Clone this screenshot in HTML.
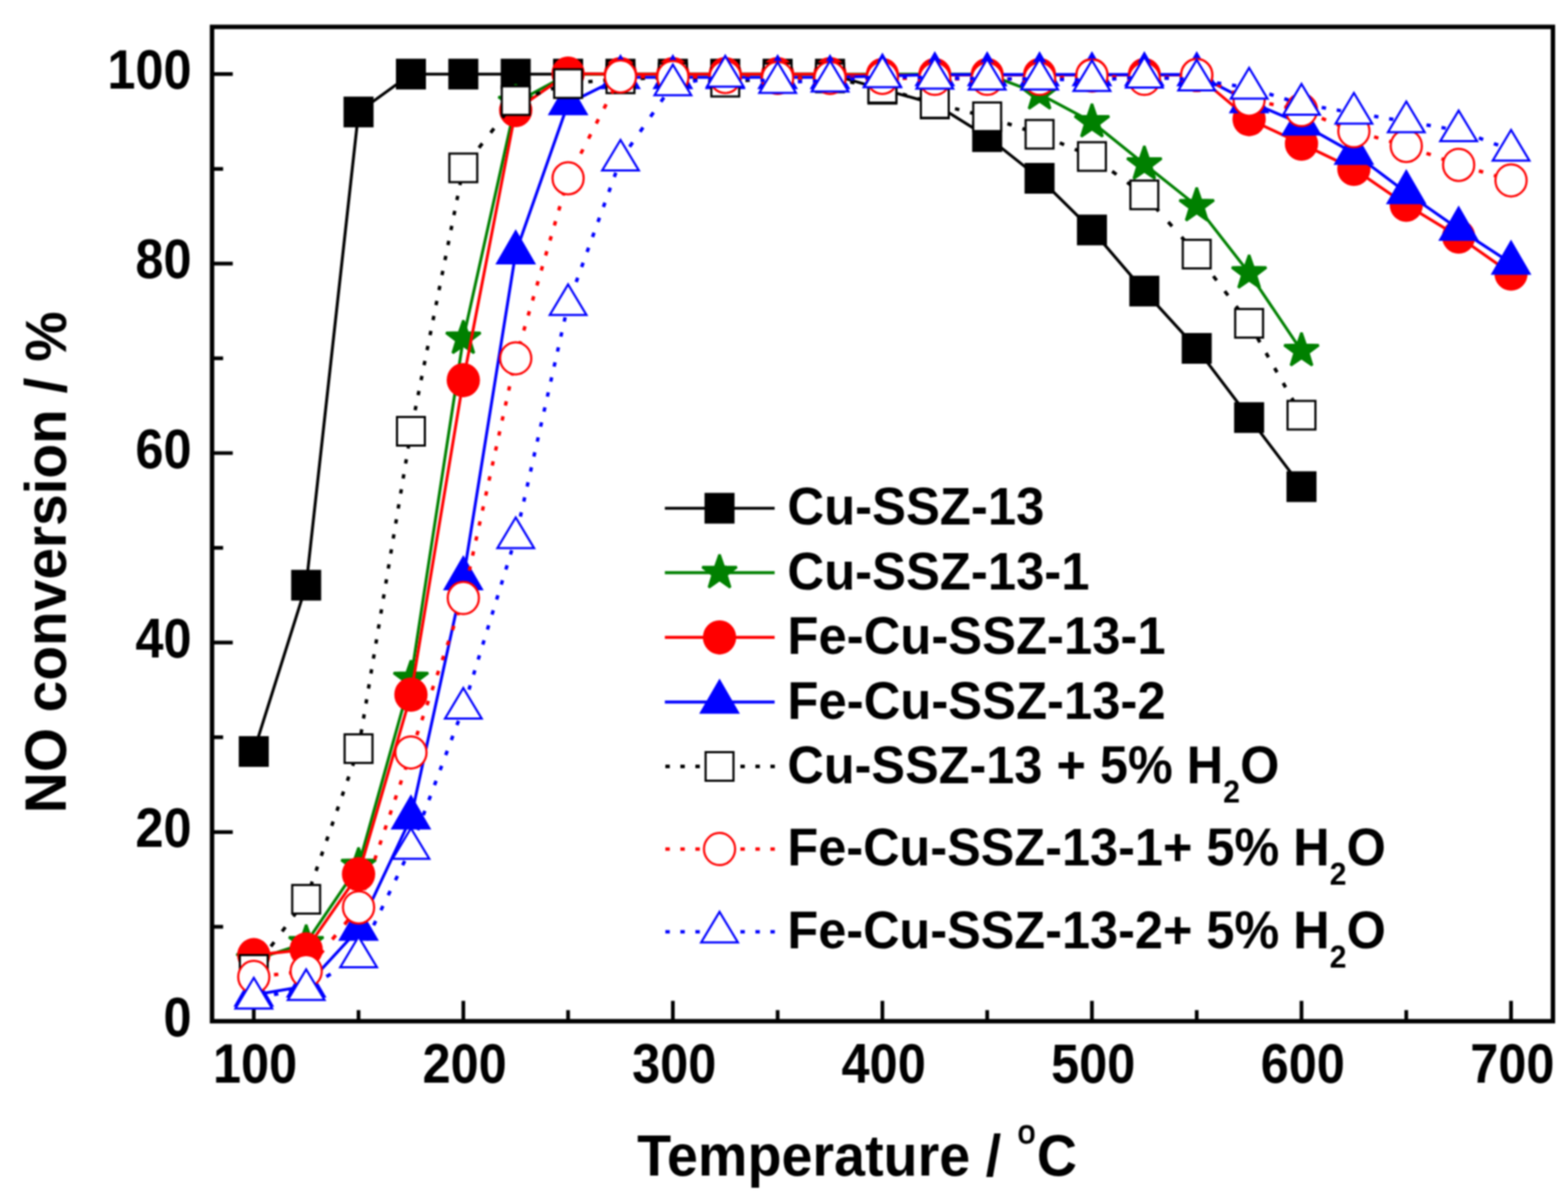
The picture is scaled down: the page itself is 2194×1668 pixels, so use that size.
<!DOCTYPE html>
<html lang="en">
<head>
<meta charset="utf-8">
<title>NO conversion vs temperature</title>
<style>
html,body{margin:0;padding:0;background:#fff;}
body{width:2194px;height:1668px;overflow:hidden;}
svg{display:block;}
</style>
</head>
<body>
<svg width="2194" height="1668" viewBox="0 0 2194 1668" font-family="'Liberation Sans', Arial, Helvetica, sans-serif" font-weight="bold">
<defs><filter id="soft" x="0" y="0" width="2194" height="1668" filterUnits="userSpaceOnUse" color-interpolation-filters="sRGB"><feGaussianBlur stdDeviation="1.3"/></filter></defs>
<rect x="0" y="0" width="2194" height="1668" fill="#ffffff"/>
<g filter="url(#soft)">
<rect x="0" y="0" width="2194" height="1668" fill="#ffffff"/>
<g id="plot">
<path d="M296.7,1429.4h29 M296.7,1296.8h15.5 M296.7,1164.3h29 M296.7,1031.7h15.5 M296.7,899.1h29 M296.7,766.6h15.5 M296.7,634h29 M296.7,501.4h15.5 M296.7,368.8h29 M296.7,236.3h15.5 M296.7,103.7h29 M355.1,1429v-28.5 M501.7,1429v-15.5 M648.3,1429v-28.5 M794.9,1429v-15.5 M941.5,1429v-28.5 M1088.1,1429v-15.5 M1234.7,1429v-28.5 M1381.3,1429v-15.5 M1527.9,1429v-28.5 M1674.5,1429v-15.5 M1821.1,1429v-28.5 M1967.7,1429v-15.5 M2114.3,1429v-28.5" stroke="#000" stroke-width="5.2" fill="none"/>
<g><polyline points="355.1,1051.6 428.4,818.9 501.7,156.7 575,103.7 648.3,103.7 721.6,103.7 794.9,103.7 868.2,103.7 941.5,103.7 1014.8,103.7 1088.1,103.7 1161.4,103.7 1234.7,124.9 1308,145.5 1381.3,191.2 1454.6,249.5 1527.9,321.8 1601.2,407.3 1674.5,487.5 1747.8,584.3 1821.1,681" fill="none" stroke="#000000" stroke-width="4.1" stroke-linejoin="round"/>
<rect x="334.1" y="1030.1" width="42" height="43" fill="#000000"/>
<rect x="407.4" y="797.4" width="42" height="43" fill="#000000"/>
<rect x="480.7" y="135.2" width="42" height="43" fill="#000000"/>
<rect x="554" y="82.2" width="42" height="43" fill="#000000"/>
<rect x="627.3" y="82.2" width="42" height="43" fill="#000000"/>
<rect x="700.6" y="82.2" width="42" height="43" fill="#000000"/>
<rect x="773.9" y="82.2" width="42" height="43" fill="#000000"/>
<rect x="847.2" y="82.2" width="42" height="43" fill="#000000"/>
<rect x="920.5" y="82.2" width="42" height="43" fill="#000000"/>
<rect x="993.8" y="82.2" width="42" height="43" fill="#000000"/>
<rect x="1067.1" y="82.2" width="42" height="43" fill="#000000"/>
<rect x="1140.4" y="82.2" width="42" height="43" fill="#000000"/>
<rect x="1213.7" y="103.4" width="42" height="43" fill="#000000"/>
<rect x="1287" y="124" width="42" height="43" fill="#000000"/>
<rect x="1360.3" y="169.7" width="42" height="43" fill="#000000"/>
<rect x="1433.6" y="228" width="42" height="43" fill="#000000"/>
<rect x="1506.9" y="300.3" width="42" height="43" fill="#000000"/>
<rect x="1580.2" y="385.8" width="42" height="43" fill="#000000"/>
<rect x="1653.5" y="466" width="42" height="43" fill="#000000"/>
<rect x="1726.8" y="562.8" width="42" height="43" fill="#000000"/>
<rect x="1800.1" y="659.5" width="42" height="43" fill="#000000"/></g>
<g><polyline points="355.1,1343.2 428.4,1319.4 501.7,1211.3 575,949.5 648.3,473.6 721.6,143.5 794.9,103.7 868.2,103.7 941.5,103.7 1014.8,103.7 1088.1,103.7 1161.4,103.7 1234.7,103.7 1308,103.7 1381.3,103.7 1454.6,131.5 1527.9,170.6 1601.2,229.6 1674.5,288 1747.8,382.1 1821.1,490.8" fill="none" stroke="#008000" stroke-width="4.1" stroke-linejoin="round"/>
<polygon points="355.1,1317.9 361,1335 379.2,1335.4 364.7,1346.4 370,1363.7 355.1,1353.3 340.2,1363.7 345.5,1346.4 331,1335.4 349.2,1335" fill="#008000" stroke="#008000" stroke-width="3.6" stroke-linejoin="bevel"/>
<polygon points="428.4,1294.1 434.3,1311.2 452.5,1311.5 438,1322.5 443.3,1339.8 428.4,1329.5 413.5,1339.8 418.8,1322.5 404.3,1311.5 422.5,1311.2" fill="#008000" stroke="#008000" stroke-width="3.6" stroke-linejoin="bevel"/>
<polygon points="501.7,1186 507.6,1203.1 525.8,1203.5 511.3,1214.4 516.6,1231.8 501.7,1221.4 486.8,1231.8 492.1,1214.4 477.6,1203.5 495.8,1203.1" fill="#008000" stroke="#008000" stroke-width="3.6" stroke-linejoin="bevel"/>
<polygon points="575,924.2 580.9,941.3 599.1,941.7 584.6,952.6 589.9,970 575,959.6 560.1,970 565.4,952.6 550.9,941.7 569.1,941.3" fill="#008000" stroke="#008000" stroke-width="3.6" stroke-linejoin="bevel"/>
<polygon points="648.3,448.3 654.2,465.4 672.4,465.8 657.9,476.7 663.2,494 648.3,483.7 633.4,494 638.7,476.7 624.2,465.8 642.4,465.4" fill="#008000" stroke="#008000" stroke-width="3.6" stroke-linejoin="bevel"/>
<polygon points="721.6,118.2 727.5,135.3 745.7,135.7 731.2,146.6 736.5,163.9 721.6,153.6 706.7,163.9 712,146.6 697.5,135.7 715.7,135.3" fill="#008000" stroke="#008000" stroke-width="3.6" stroke-linejoin="bevel"/>
<polygon points="1454.6,106.2 1460.5,123.4 1478.7,123.7 1464.2,134.7 1469.5,152 1454.6,141.7 1439.7,152 1445,134.7 1430.5,123.7 1448.7,123.4" fill="#008000" stroke="#008000" stroke-width="3.6" stroke-linejoin="bevel"/>
<polygon points="1527.9,145.3 1533.8,162.5 1552,162.8 1537.5,173.8 1542.8,191.1 1527.9,180.8 1513,191.1 1518.3,173.8 1503.8,162.8 1522,162.5" fill="#008000" stroke="#008000" stroke-width="3.6" stroke-linejoin="bevel"/>
<polygon points="1601.2,204.3 1607.1,221.5 1625.3,221.8 1610.8,232.8 1616.1,250.1 1601.2,239.8 1586.3,250.1 1591.6,232.8 1577.1,221.8 1595.3,221.5" fill="#008000" stroke="#008000" stroke-width="3.6" stroke-linejoin="bevel"/>
<polygon points="1674.5,262.7 1680.4,279.8 1698.6,280.2 1684.1,291.1 1689.4,308.4 1674.5,298.1 1659.6,308.4 1664.9,291.1 1650.4,280.2 1668.6,279.8" fill="#008000" stroke="#008000" stroke-width="3.6" stroke-linejoin="bevel"/>
<polygon points="1747.8,356.8 1753.7,373.9 1771.9,374.3 1757.4,385.2 1762.7,402.6 1747.8,392.2 1732.9,402.6 1738.2,385.2 1723.7,374.3 1741.9,373.9" fill="#008000" stroke="#008000" stroke-width="3.6" stroke-linejoin="bevel"/>
<polygon points="1821.1,465.5 1827,482.6 1845.2,483 1830.7,493.9 1836,511.3 1821.1,500.9 1806.2,511.3 1811.5,493.9 1797,483 1815.2,482.6" fill="#008000" stroke="#008000" stroke-width="3.6" stroke-linejoin="bevel"/></g>
<g><polyline points="355.1,1336.6 428.4,1328.6 501.7,1223.3 575,972 648.3,531.9 721.6,154.1 794.9,103 868.2,103.7 941.5,103.7 1014.8,103.7 1088.1,103.7 1161.4,103.7 1234.7,105 1308,105 1381.3,105 1454.6,105 1527.9,105 1601.2,105 1674.5,105 1747.8,166.7 1821.1,201.1 1894.4,236.3 1967.7,286.6 2041,331.1 2114.3,382.8" fill="none" stroke="#ff0000" stroke-width="4.1" stroke-linejoin="round"/>
<ellipse cx="355.1" cy="1336.6" rx="23.3" ry="24" fill="#ff0000"/>
<ellipse cx="428.4" cy="1328.6" rx="23.3" ry="24" fill="#ff0000"/>
<ellipse cx="501.7" cy="1223.3" rx="23.3" ry="24" fill="#ff0000"/>
<ellipse cx="575" cy="972" rx="23.3" ry="24" fill="#ff0000"/>
<ellipse cx="648.3" cy="531.9" rx="23.3" ry="24" fill="#ff0000"/>
<ellipse cx="721.6" cy="154.1" rx="23.3" ry="24" fill="#ff0000"/>
<ellipse cx="794.9" cy="103" rx="23.3" ry="24" fill="#ff0000"/>
<ellipse cx="868.2" cy="103.7" rx="23.3" ry="24" fill="#ff0000"/>
<ellipse cx="941.5" cy="103.7" rx="23.3" ry="24" fill="#ff0000"/>
<ellipse cx="1014.8" cy="103.7" rx="23.3" ry="24" fill="#ff0000"/>
<ellipse cx="1088.1" cy="103.7" rx="23.3" ry="24" fill="#ff0000"/>
<ellipse cx="1161.4" cy="103.7" rx="23.3" ry="24" fill="#ff0000"/>
<ellipse cx="1234.7" cy="105" rx="23.3" ry="24" fill="#ff0000"/>
<ellipse cx="1308" cy="105" rx="23.3" ry="24" fill="#ff0000"/>
<ellipse cx="1381.3" cy="105" rx="23.3" ry="24" fill="#ff0000"/>
<ellipse cx="1454.6" cy="105" rx="23.3" ry="24" fill="#ff0000"/>
<ellipse cx="1527.9" cy="105" rx="23.3" ry="24" fill="#ff0000"/>
<ellipse cx="1601.2" cy="105" rx="23.3" ry="24" fill="#ff0000"/>
<ellipse cx="1674.5" cy="105" rx="23.3" ry="24" fill="#ff0000"/>
<ellipse cx="1747.8" cy="166.7" rx="23.3" ry="24" fill="#ff0000"/>
<ellipse cx="1821.1" cy="201.1" rx="23.3" ry="24" fill="#ff0000"/>
<ellipse cx="1894.4" cy="236.3" rx="23.3" ry="24" fill="#ff0000"/>
<ellipse cx="1967.7" cy="286.6" rx="23.3" ry="24" fill="#ff0000"/>
<ellipse cx="2041" cy="331.1" rx="23.3" ry="24" fill="#ff0000"/>
<ellipse cx="2114.3" cy="382.8" rx="23.3" ry="24" fill="#ff0000"/></g>
<g><polyline points="355.1,1392.3 428.4,1379.7 501.7,1300.1 575,1144.4 648.3,809.6 721.6,353.6 794.9,144.8 868.2,108.3 941.5,108.3 1014.8,108.3 1088.1,108.3 1161.4,108.3 1234.7,106.4 1308,104.4 1381.3,104.4 1454.6,104.4 1527.9,104.4 1601.2,104.4 1674.5,104.4 1747.8,142.1 1821.1,173.3 1894.4,214.4 1967.7,269.4 2041,320.5 2114.3,368.2" fill="none" stroke="#0000ff" stroke-width="4.1" stroke-linejoin="round"/>
<polygon points="355.1,1359.4 383.6,1408.7 326.6,1408.7" fill="#0000ff" stroke-linejoin="miter"/>
<polygon points="428.4,1346.8 456.9,1396.1 399.9,1396.1" fill="#0000ff" stroke-linejoin="miter"/>
<polygon points="501.7,1267.3 530.2,1316.6 473.2,1316.6" fill="#0000ff" stroke-linejoin="miter"/>
<polygon points="575,1111.5 603.5,1160.8 546.5,1160.8" fill="#0000ff" stroke-linejoin="miter"/>
<polygon points="648.3,776.8 676.8,826.1 619.8,826.1" fill="#0000ff" stroke-linejoin="miter"/>
<polygon points="721.6,320.7 750.1,370 693.1,370" fill="#0000ff" stroke-linejoin="miter"/>
<polygon points="794.9,111.9 823.4,161.2 766.4,161.2" fill="#0000ff" stroke-linejoin="miter"/>
<polygon points="868.2,75.5 896.7,124.8 839.7,124.8" fill="#0000ff" stroke-linejoin="miter"/>
<polygon points="941.5,75.5 970,124.8 913,124.8" fill="#0000ff" stroke-linejoin="miter"/>
<polygon points="1014.8,75.5 1043.3,124.8 986.3,124.8" fill="#0000ff" stroke-linejoin="miter"/>
<polygon points="1088.1,75.5 1116.6,124.8 1059.6,124.8" fill="#0000ff" stroke-linejoin="miter"/>
<polygon points="1161.4,75.5 1189.9,124.8 1132.9,124.8" fill="#0000ff" stroke-linejoin="miter"/>
<polygon points="1234.7,73.5 1263.2,122.8 1206.2,122.8" fill="#0000ff" stroke-linejoin="miter"/>
<polygon points="1308,71.5 1336.5,120.8 1279.5,120.8" fill="#0000ff" stroke-linejoin="miter"/>
<polygon points="1381.3,71.5 1409.8,120.8 1352.8,120.8" fill="#0000ff" stroke-linejoin="miter"/>
<polygon points="1454.6,71.5 1483.1,120.8 1426.1,120.8" fill="#0000ff" stroke-linejoin="miter"/>
<polygon points="1527.9,71.5 1556.4,120.8 1499.4,120.8" fill="#0000ff" stroke-linejoin="miter"/>
<polygon points="1601.2,71.5 1629.7,120.8 1572.7,120.8" fill="#0000ff" stroke-linejoin="miter"/>
<polygon points="1674.5,71.5 1703,120.8 1646,120.8" fill="#0000ff" stroke-linejoin="miter"/>
<polygon points="1747.8,109.3 1776.3,158.6 1719.3,158.6" fill="#0000ff" stroke-linejoin="miter"/>
<polygon points="1821.1,140.4 1849.6,189.7 1792.6,189.7" fill="#0000ff" stroke-linejoin="miter"/>
<polygon points="1894.4,181.5 1922.9,230.8 1865.9,230.8" fill="#0000ff" stroke-linejoin="miter"/>
<polygon points="1967.7,236.5 1996.2,285.8 1939.2,285.8" fill="#0000ff" stroke-linejoin="miter"/>
<polygon points="2041,287.6 2069.5,336.9 2012.5,336.9" fill="#0000ff" stroke-linejoin="miter"/>
<polygon points="2114.3,335.3 2142.8,384.6 2085.8,384.6" fill="#0000ff" stroke-linejoin="miter"/></g>
<g><g fill="none" stroke="#000000" stroke-width="4.8"><path d="M355.1,1356.5L428.4,1258.4" stroke-dasharray="7.49 18.72" stroke-dashoffset="12.36"/><path d="M428.4,1258.4L501.7,1047.6" stroke-dasharray="6.35 15.88" stroke-dashoffset="2.34"/><path d="M501.7,1047.6L575,603.5" stroke-dasharray="6.08 15.20" stroke-dashoffset="21.17"/><path d="M575,603.5L648.3,234.9" stroke-dasharray="6.12 15.29" stroke-dashoffset="12.70"/><path d="M648.3,234.9L721.6,140.8" stroke-dasharray="7.60 19.01" stroke-dashoffset="17.59"/><path d="M721.6,140.8L794.9,117" stroke-dasharray="6.31 15.77" stroke-dashoffset="14.41"/><path d="M794.9,117L868.2,110.3" stroke-dasharray="6.02 15.06" stroke-dashoffset="13.76"/><path d="M868.2,110.3L941.5,109" stroke-dasharray="6.00 15.00" stroke-dashoffset="13.70"/><path d="M941.5,109L1014.8,115" stroke-dasharray="6.02 15.05" stroke-dashoffset="13.75"/><path d="M1014.8,115L1088.1,109" stroke-dasharray="6.02 15.05" stroke-dashoffset="13.75"/><path d="M1088.1,109L1161.4,109" stroke-dasharray="6.00 15.00" stroke-dashoffset="13.70"/><path d="M1161.4,109L1234.7,123.6" stroke-dasharray="6.12 15.29" stroke-dashoffset="13.97"/><path d="M1234.7,123.6L1308,144.8" stroke-dasharray="6.25 15.62" stroke-dashoffset="14.26"/><path d="M1308,144.8L1381.3,163.4" stroke-dasharray="6.19 15.47" stroke-dashoffset="14.13"/><path d="M1381.3,163.4L1454.6,187.9" stroke-dasharray="6.33 15.82" stroke-dashoffset="14.45"/><path d="M1454.6,187.9L1527.9,219" stroke-dasharray="6.52 16.30" stroke-dashoffset="14.89"/><path d="M1527.9,219L1601.2,272.7" stroke-dasharray="7.44 18.59" stroke-dashoffset="16.98"/><path d="M1601.2,272.7L1674.5,355.6" stroke-dasharray="8.01 20.03" stroke-dashoffset="5.53"/><path d="M1674.5,355.6L1747.8,452.4" stroke-dasharray="7.53 18.82" stroke-dashoffset="14.08"/><path d="M1747.8,452.4L1821.1,581" stroke-dasharray="6.91 17.27" stroke-dashoffset="0.47"/></g>
<rect x="335.6" y="1336.5" width="39" height="40" fill="#ffffff" stroke="#000000" stroke-width="3.0"/>
<rect x="408.9" y="1238.4" width="39" height="40" fill="#ffffff" stroke="#000000" stroke-width="3.0"/>
<rect x="482.2" y="1027.6" width="39" height="40" fill="#ffffff" stroke="#000000" stroke-width="3.0"/>
<rect x="555.5" y="583.5" width="39" height="40" fill="#ffffff" stroke="#000000" stroke-width="3.0"/>
<rect x="628.8" y="214.9" width="39" height="40" fill="#ffffff" stroke="#000000" stroke-width="3.0"/>
<rect x="702.1" y="120.8" width="39" height="40" fill="#ffffff" stroke="#000000" stroke-width="3.0"/>
<rect x="775.4" y="97" width="39" height="40" fill="#ffffff" stroke="#000000" stroke-width="3.0"/>
<rect x="848.7" y="90.3" width="39" height="40" fill="#ffffff" stroke="#000000" stroke-width="3.0"/>
<rect x="922" y="89" width="39" height="40" fill="#ffffff" stroke="#000000" stroke-width="3.0"/>
<rect x="995.3" y="95" width="39" height="40" fill="#ffffff" stroke="#000000" stroke-width="3.0"/>
<rect x="1068.6" y="89" width="39" height="40" fill="#ffffff" stroke="#000000" stroke-width="3.0"/>
<rect x="1141.9" y="89" width="39" height="40" fill="#ffffff" stroke="#000000" stroke-width="3.0"/>
<rect x="1215.2" y="103.6" width="39" height="40" fill="#ffffff" stroke="#000000" stroke-width="3.0"/>
<rect x="1288.5" y="124.8" width="39" height="40" fill="#ffffff" stroke="#000000" stroke-width="3.0"/>
<rect x="1361.8" y="143.4" width="39" height="40" fill="#ffffff" stroke="#000000" stroke-width="3.0"/>
<rect x="1435.1" y="167.9" width="39" height="40" fill="#ffffff" stroke="#000000" stroke-width="3.0"/>
<rect x="1508.4" y="199" width="39" height="40" fill="#ffffff" stroke="#000000" stroke-width="3.0"/>
<rect x="1581.7" y="252.7" width="39" height="40" fill="#ffffff" stroke="#000000" stroke-width="3.0"/>
<rect x="1655" y="335.6" width="39" height="40" fill="#ffffff" stroke="#000000" stroke-width="3.0"/>
<rect x="1728.3" y="432.4" width="39" height="40" fill="#ffffff" stroke="#000000" stroke-width="3.0"/>
<rect x="1801.6" y="561" width="39" height="40" fill="#ffffff" stroke="#000000" stroke-width="3.0"/></g>
<g><g fill="none" stroke="#ff0000" stroke-width="4.8"><path d="M355.1,1367.1L428.4,1359.1" stroke-dasharray="6.04 15.09" stroke-dashoffset="13.78"/><path d="M428.4,1359.1L501.7,1269.7" stroke-dasharray="7.76 19.39" stroke-dashoffset="23.93"/><path d="M501.7,1269.7L575,1052.9" stroke-dasharray="6.33 15.83" stroke-dashoffset="18.21"/><path d="M575,1052.9L648.3,836.8" stroke-dasharray="6.34 15.84" stroke-dashoffset="18.91"/><path d="M648.3,836.8L721.6,501.4" stroke-dasharray="6.14 15.35" stroke-dashoffset="3.68"/><path d="M721.6,501.4L794.9,249.5" stroke-dasharray="6.25 15.62" stroke-dashoffset="3.25"/><path d="M794.9,249.5L868.2,107" stroke-dasharray="6.75 16.87" stroke-dashoffset="8.42"/><path d="M868.2,107L941.5,107.7" stroke-dasharray="6.00 15.00" stroke-dashoffset="13.70"/><path d="M941.5,107.7L1014.8,107.7" stroke-dasharray="6.00 15.00" stroke-dashoffset="13.70"/><path d="M1014.8,107.7L1088.1,109" stroke-dasharray="6.00 15.00" stroke-dashoffset="13.70"/><path d="M1088.1,109L1161.4,109" stroke-dasharray="6.00 15.00" stroke-dashoffset="13.70"/><path d="M1161.4,109L1234.7,109" stroke-dasharray="6.00 15.00" stroke-dashoffset="13.70"/><path d="M1234.7,109L1308,110.3" stroke-dasharray="6.00 15.00" stroke-dashoffset="13.70"/><path d="M1308,110.3L1381.3,110.3" stroke-dasharray="6.00 15.00" stroke-dashoffset="13.70"/><path d="M1381.3,110.3L1454.6,110.3" stroke-dasharray="6.00 15.00" stroke-dashoffset="13.70"/><path d="M1454.6,110.3L1527.9,105.7" stroke-dasharray="6.01 15.03" stroke-dashoffset="13.73"/><path d="M1527.9,105.7L1601.2,110.3" stroke-dasharray="6.01 15.03" stroke-dashoffset="13.73"/><path d="M1601.2,110.3L1674.5,105" stroke-dasharray="6.02 15.04" stroke-dashoffset="13.74"/><path d="M1674.5,105L1747.8,139.5" stroke-dasharray="6.63 16.58" stroke-dashoffset="15.14"/><path d="M1747.8,139.5L1821.1,154.1" stroke-dasharray="6.12 15.29" stroke-dashoffset="13.97"/><path d="M1821.1,154.1L1894.4,183.6" stroke-dasharray="6.47 16.17" stroke-dashoffset="14.77"/><path d="M1894.4,183.6L1967.7,204.2" stroke-dasharray="6.23 15.58" stroke-dashoffset="14.23"/><path d="M1967.7,204.2L2041,230.7" stroke-dasharray="6.38 15.95" stroke-dashoffset="14.57"/><path d="M2041,230.7L2114.3,252.4" stroke-dasharray="6.26 15.65" stroke-dashoffset="14.29"/></g>
<ellipse cx="355.1" cy="1367.1" rx="21.8" ry="22.5" fill="#ffffff" stroke="#ff0000" stroke-width="3.0"/>
<ellipse cx="428.4" cy="1359.1" rx="21.8" ry="22.5" fill="#ffffff" stroke="#ff0000" stroke-width="3.0"/>
<ellipse cx="501.7" cy="1269.7" rx="21.8" ry="22.5" fill="#ffffff" stroke="#ff0000" stroke-width="3.0"/>
<ellipse cx="575" cy="1052.9" rx="21.8" ry="22.5" fill="#ffffff" stroke="#ff0000" stroke-width="3.0"/>
<ellipse cx="648.3" cy="836.8" rx="21.8" ry="22.5" fill="#ffffff" stroke="#ff0000" stroke-width="3.0"/>
<ellipse cx="721.6" cy="501.4" rx="21.8" ry="22.5" fill="#ffffff" stroke="#ff0000" stroke-width="3.0"/>
<ellipse cx="794.9" cy="249.5" rx="21.8" ry="22.5" fill="#ffffff" stroke="#ff0000" stroke-width="3.0"/>
<ellipse cx="868.2" cy="107" rx="21.8" ry="22.5" fill="#ffffff" stroke="#ff0000" stroke-width="3.0"/>
<ellipse cx="941.5" cy="107.7" rx="21.8" ry="22.5" fill="#ffffff" stroke="#ff0000" stroke-width="3.0"/>
<ellipse cx="1014.8" cy="107.7" rx="21.8" ry="22.5" fill="#ffffff" stroke="#ff0000" stroke-width="3.0"/>
<ellipse cx="1088.1" cy="109" rx="21.8" ry="22.5" fill="#ffffff" stroke="#ff0000" stroke-width="3.0"/>
<ellipse cx="1161.4" cy="109" rx="21.8" ry="22.5" fill="#ffffff" stroke="#ff0000" stroke-width="3.0"/>
<ellipse cx="1234.7" cy="109" rx="21.8" ry="22.5" fill="#ffffff" stroke="#ff0000" stroke-width="3.0"/>
<ellipse cx="1308" cy="110.3" rx="21.8" ry="22.5" fill="#ffffff" stroke="#ff0000" stroke-width="3.0"/>
<ellipse cx="1381.3" cy="110.3" rx="21.8" ry="22.5" fill="#ffffff" stroke="#ff0000" stroke-width="3.0"/>
<ellipse cx="1454.6" cy="110.3" rx="21.8" ry="22.5" fill="#ffffff" stroke="#ff0000" stroke-width="3.0"/>
<ellipse cx="1527.9" cy="105.7" rx="21.8" ry="22.5" fill="#ffffff" stroke="#ff0000" stroke-width="3.0"/>
<ellipse cx="1601.2" cy="110.3" rx="21.8" ry="22.5" fill="#ffffff" stroke="#ff0000" stroke-width="3.0"/>
<ellipse cx="1674.5" cy="105" rx="21.8" ry="22.5" fill="#ffffff" stroke="#ff0000" stroke-width="3.0"/>
<ellipse cx="1747.8" cy="139.5" rx="21.8" ry="22.5" fill="#ffffff" stroke="#ff0000" stroke-width="3.0"/>
<ellipse cx="1821.1" cy="154.1" rx="21.8" ry="22.5" fill="#ffffff" stroke="#ff0000" stroke-width="3.0"/>
<ellipse cx="1894.4" cy="183.6" rx="21.8" ry="22.5" fill="#ffffff" stroke="#ff0000" stroke-width="3.0"/>
<ellipse cx="1967.7" cy="204.2" rx="21.8" ry="22.5" fill="#ffffff" stroke="#ff0000" stroke-width="3.0"/>
<ellipse cx="2041" cy="230.7" rx="21.8" ry="22.5" fill="#ffffff" stroke="#ff0000" stroke-width="3.0"/>
<ellipse cx="2114.3" cy="252.4" rx="21.8" ry="22.5" fill="#ffffff" stroke="#ff0000" stroke-width="3.0"/></g>
<g><g fill="none" stroke="#0000ff" stroke-width="4.8"><path d="M355.1,1396.3L428.4,1384.3" stroke-dasharray="6.08 15.20" stroke-dashoffset="13.88"/><path d="M428.4,1384.3L501.7,1338.6" stroke-dasharray="7.07 17.68" stroke-dashoffset="16.15"/><path d="M501.7,1338.6L575,1186.8" stroke-dasharray="6.66 16.66" stroke-dashoffset="21.33"/><path d="M575,1186.8L648.3,990.6" stroke-dasharray="6.41 16.01" stroke-dashoffset="17.93"/><path d="M648.3,990.6L721.6,752" stroke-dasharray="6.28 15.69" stroke-dashoffset="17.13"/><path d="M721.6,752L794.9,425.8" stroke-dasharray="6.15 15.37" stroke-dashoffset="13.20"/><path d="M794.9,425.8L868.2,223.7" stroke-dasharray="6.38 15.96" stroke-dashoffset="11.52"/><path d="M868.2,223.7L941.5,118.3" stroke-dasharray="7.31 18.27" stroke-dashoffset="3.18"/><path d="M941.5,118.3L1014.8,106.4" stroke-dasharray="6.08 15.20" stroke-dashoffset="13.88"/><path d="M1014.8,106.4L1088.1,115" stroke-dasharray="6.04 15.10" stroke-dashoffset="13.79"/><path d="M1088.1,115L1161.4,113" stroke-dasharray="6.00 15.01" stroke-dashoffset="13.71"/><path d="M1161.4,113L1234.7,107" stroke-dasharray="6.02 15.05" stroke-dashoffset="13.75"/><path d="M1234.7,107L1308,109" stroke-dasharray="6.00 15.01" stroke-dashoffset="13.71"/><path d="M1308,109L1381.3,110.3" stroke-dasharray="6.00 15.00" stroke-dashoffset="13.70"/><path d="M1381.3,110.3L1454.6,110.3" stroke-dasharray="6.00 15.00" stroke-dashoffset="13.70"/><path d="M1454.6,110.3L1527.9,112.3" stroke-dasharray="6.00 15.01" stroke-dashoffset="13.71"/><path d="M1527.9,112.3L1601.2,107.7" stroke-dasharray="6.01 15.03" stroke-dashoffset="13.73"/><path d="M1601.2,107.7L1674.5,111.7" stroke-dasharray="6.01 15.02" stroke-dashoffset="13.72"/><path d="M1674.5,111.7L1747.8,122.9" stroke-dasharray="6.07 15.18" stroke-dashoffset="13.86"/><path d="M1747.8,122.9L1821.1,145.5" stroke-dasharray="6.28 15.69" stroke-dashoffset="14.33"/><path d="M1821.1,145.5L1894.4,158.1" stroke-dasharray="6.09 15.22" stroke-dashoffset="13.90"/><path d="M1894.4,158.1L1967.7,170" stroke-dasharray="6.08 15.20" stroke-dashoffset="13.88"/><path d="M1967.7,170L2041,182.6" stroke-dasharray="6.09 15.22" stroke-dashoffset="13.90"/><path d="M2041,182.6L2114.3,209.8" stroke-dasharray="6.40 16.00" stroke-dashoffset="14.61"/></g>
<polygon points="355.1,1368.3 380.8,1411.2 329.5,1411.2" fill="#ffffff" stroke="#0000ff" stroke-width="3.0" stroke-linejoin="miter"/>
<polygon points="428.4,1356.4 454.1,1399.3 402.8,1399.3" fill="#ffffff" stroke="#0000ff" stroke-width="3.0" stroke-linejoin="miter"/>
<polygon points="501.7,1310.7 527.4,1353.5 476.1,1353.5" fill="#ffffff" stroke="#0000ff" stroke-width="3.0" stroke-linejoin="miter"/>
<polygon points="575,1158.9 600.7,1201.7 549.4,1201.7" fill="#ffffff" stroke="#0000ff" stroke-width="3.0" stroke-linejoin="miter"/>
<polygon points="648.3,962.7 674,1005.5 622.7,1005.5" fill="#ffffff" stroke="#0000ff" stroke-width="3.0" stroke-linejoin="miter"/>
<polygon points="721.6,724.1 747.3,766.9 696,766.9" fill="#ffffff" stroke="#0000ff" stroke-width="3.0" stroke-linejoin="miter"/>
<polygon points="794.9,397.9 820.6,440.8 769.3,440.8" fill="#ffffff" stroke="#0000ff" stroke-width="3.0" stroke-linejoin="miter"/>
<polygon points="868.2,195.8 893.9,238.6 842.6,238.6" fill="#ffffff" stroke="#0000ff" stroke-width="3.0" stroke-linejoin="miter"/>
<polygon points="941.5,90.4 967.2,133.2 915.9,133.2" fill="#ffffff" stroke="#0000ff" stroke-width="3.0" stroke-linejoin="miter"/>
<polygon points="1014.8,78.4 1040.5,121.3 989.2,121.3" fill="#ffffff" stroke="#0000ff" stroke-width="3.0" stroke-linejoin="miter"/>
<polygon points="1088.1,87.1 1113.8,129.9 1062.5,129.9" fill="#ffffff" stroke="#0000ff" stroke-width="3.0" stroke-linejoin="miter"/>
<polygon points="1161.4,85.1 1187.1,127.9 1135.8,127.9" fill="#ffffff" stroke="#0000ff" stroke-width="3.0" stroke-linejoin="miter"/>
<polygon points="1234.7,79.1 1260.4,121.9 1209.1,121.9" fill="#ffffff" stroke="#0000ff" stroke-width="3.0" stroke-linejoin="miter"/>
<polygon points="1308,81.1 1333.7,123.9 1282.4,123.9" fill="#ffffff" stroke="#0000ff" stroke-width="3.0" stroke-linejoin="miter"/>
<polygon points="1381.3,82.4 1407,125.3 1355.7,125.3" fill="#ffffff" stroke="#0000ff" stroke-width="3.0" stroke-linejoin="miter"/>
<polygon points="1454.6,82.4 1480.3,125.3 1429,125.3" fill="#ffffff" stroke="#0000ff" stroke-width="3.0" stroke-linejoin="miter"/>
<polygon points="1527.9,84.4 1553.6,127.3 1502.2,127.3" fill="#ffffff" stroke="#0000ff" stroke-width="3.0" stroke-linejoin="miter"/>
<polygon points="1601.2,79.8 1626.9,122.6 1575.6,122.6" fill="#ffffff" stroke="#0000ff" stroke-width="3.0" stroke-linejoin="miter"/>
<polygon points="1674.5,83.7 1700.2,126.6 1648.8,126.6" fill="#ffffff" stroke="#0000ff" stroke-width="3.0" stroke-linejoin="miter"/>
<polygon points="1747.8,95 1773.5,137.9 1722.2,137.9" fill="#ffffff" stroke="#0000ff" stroke-width="3.0" stroke-linejoin="miter"/>
<polygon points="1821.1,117.5 1846.8,160.4 1795.5,160.4" fill="#ffffff" stroke="#0000ff" stroke-width="3.0" stroke-linejoin="miter"/>
<polygon points="1894.4,130.1 1920.1,173 1868.8,173" fill="#ffffff" stroke="#0000ff" stroke-width="3.0" stroke-linejoin="miter"/>
<polygon points="1967.7,142.1 1993.4,184.9 1942.1,184.9" fill="#ffffff" stroke="#0000ff" stroke-width="3.0" stroke-linejoin="miter"/>
<polygon points="2041,154.7 2066.7,197.5 2015.3,197.5" fill="#ffffff" stroke="#0000ff" stroke-width="3.0" stroke-linejoin="miter"/>
<polygon points="2114.3,181.8 2140,224.7 2088.7,224.7" fill="#ffffff" stroke="#0000ff" stroke-width="3.0" stroke-linejoin="miter"/></g>
<rect x="296.7" y="37.6" width="1876.2" height="1391.4" fill="none" stroke="#000" stroke-width="6.2"/>
</g>
<g fill="#000">
<text transform="translate(268,1450) scale(0.9175,1)" font-size="77" text-anchor="end">0</text>
<text transform="translate(268,1184.9) scale(0.9175,1)" font-size="77" text-anchor="end">20</text>
<text transform="translate(268,919.7) scale(0.9175,1)" font-size="77" text-anchor="end">40</text>
<text transform="translate(268,654.6) scale(0.9175,1)" font-size="77" text-anchor="end">60</text>
<text transform="translate(268,389.4) scale(0.9175,1)" font-size="77" text-anchor="end">80</text>
<text transform="translate(268,124.3) scale(0.9175,1)" font-size="77" text-anchor="end">100</text>
<text transform="translate(356.9,1514.8) scale(0.9175,1)" font-size="77" text-anchor="middle">100</text>
<text transform="translate(650.1,1514.8) scale(0.9175,1)" font-size="77" text-anchor="middle">200</text>
<text transform="translate(943.3,1514.8) scale(0.9175,1)" font-size="77" text-anchor="middle">300</text>
<text transform="translate(1236.5,1514.8) scale(0.9175,1)" font-size="77" text-anchor="middle">400</text>
<text transform="translate(1529.7,1514.8) scale(0.9175,1)" font-size="77" text-anchor="middle">500</text>
<text transform="translate(1822.9,1514.8) scale(0.9175,1)" font-size="77" text-anchor="middle">600</text>
<text transform="translate(2116.1,1514.8) scale(0.9175,1)" font-size="77" text-anchor="middle">700</text>
<text transform="translate(891.5,1645.3) scale(0.95,1)" font-size="82">Temperature / <tspan font-size="47" font-weight="normal" stroke="#000" stroke-width="1.3" dx="1.5" dy="-45">o</tspan><tspan dx="2" dy="45">C</tspan></text>
<text transform="translate(91.6,786.8) rotate(-90) scale(0.9695,1)" font-size="82" text-anchor="middle">NO conversion / %</text>
</g>
<g id="legend">
<line x1="930.3" y1="711.2" x2="1083.9" y2="711.2" stroke="#000000" stroke-width="4.1"/>
<rect x="985.8" y="689.7" width="42" height="43" fill="#000000"/>
<text transform="translate(1101.8,734.4) scale(0.948,1)" font-size="75" fill="#000">Cu-SSZ-13</text>
<line x1="930.3" y1="801.4" x2="1083.9" y2="801.4" stroke="#008000" stroke-width="4.1"/>
<polygon points="1006.8,776.1 1012.7,793.2 1030.9,793.6 1016.4,804.5 1021.7,821.9 1006.8,811.5 991.9,821.9 997.2,804.5 982.7,793.6 1000.9,793.2" fill="#008000" stroke="#008000" stroke-width="3.6" stroke-linejoin="bevel"/>
<text transform="translate(1101.8,824.6) scale(0.948,1)" font-size="75" fill="#000">Cu-SSZ-13-1</text>
<line x1="930.3" y1="891.9" x2="1083.9" y2="891.9" stroke="#ff0000" stroke-width="4.1"/>
<ellipse cx="1006.8" cy="891.9" rx="23.3" ry="24" fill="#ff0000"/>
<text transform="translate(1101.8,915.1) scale(0.948,1)" font-size="75" fill="#000">Fe-Cu-SSZ-13-1</text>
<line x1="930.3" y1="982.4" x2="1083.9" y2="982.4" stroke="#0000ff" stroke-width="4.1"/>
<polygon points="1006.8,949.5 1035.3,998.8 978.3,998.8" fill="#0000ff" stroke-linejoin="miter"/>
<text transform="translate(1101.8,1005.6) scale(0.948,1)" font-size="75" fill="#000">Fe-Cu-SSZ-13-2</text>
<line x1="931" y1="1072.5" x2="1084.8" y2="1072.5" stroke="#000000" stroke-width="4.8" stroke-dasharray="6.2 14.8"/>
<rect x="987.3" y="1052.5" width="39" height="40" fill="#ffffff" stroke="#000000" stroke-width="3.0"/>
<text transform="translate(1101.8,1095.7) scale(0.941,1)" font-size="75" fill="#000">Cu-SSZ-13 + 5% H<tspan font-size="45" dy="27">2</tspan><tspan dy="-27">O</tspan></text>
<line x1="931" y1="1188.1" x2="1084.8" y2="1188.1" stroke="#ff0000" stroke-width="4.8" stroke-dasharray="6.2 14.8"/>
<ellipse cx="1006.8" cy="1188.1" rx="21.8" ry="22.5" fill="#ffffff" stroke="#ff0000" stroke-width="3.0"/>
<text transform="translate(1101.8,1211.3) scale(0.941,1)" font-size="75" fill="#000">Fe-Cu-SSZ-13-1+ 5% H<tspan font-size="45" dy="27">2</tspan><tspan dy="-27">O</tspan></text>
<line x1="931" y1="1303.9" x2="1084.8" y2="1303.9" stroke="#0000ff" stroke-width="4.8" stroke-dasharray="6.2 14.8"/>
<polygon points="1006.8,1276 1032.5,1318.8 981.1,1318.8" fill="#ffffff" stroke="#0000ff" stroke-width="3.0" stroke-linejoin="miter"/>
<text transform="translate(1101.8,1327.1) scale(0.941,1)" font-size="75" fill="#000">Fe-Cu-SSZ-13-2+ 5% H<tspan font-size="45" dy="27">2</tspan><tspan dy="-27">O</tspan></text>
</g>
</g>
</svg>
</body>
</html>
